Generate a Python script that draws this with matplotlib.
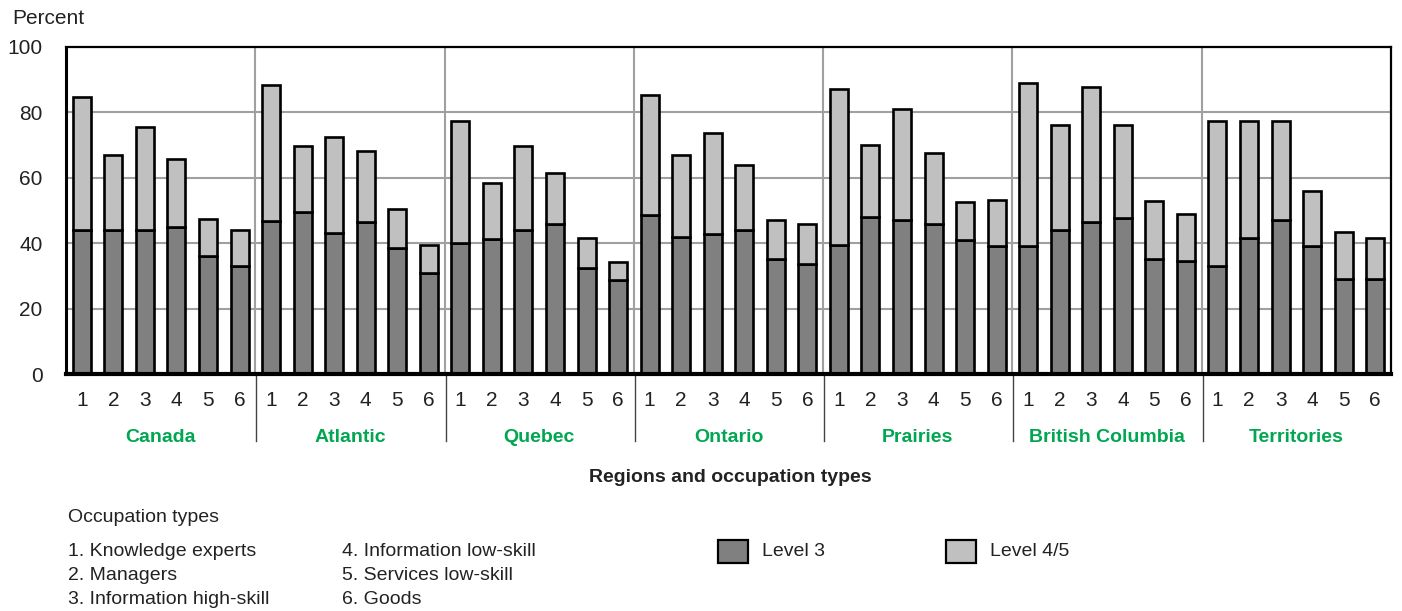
import numpy as np
import matplotlib.pyplot as plt
from matplotlib.patches import Rectangle

# ------------------ Data ------------------
regions = ["Canada", "Atlantic", "Quebec", "Ontario", "Prairies",
           "British Columbia", "Territories"]
occ_ticks = ["1", "2", "3", "4", "5", "6"]

# Level 3 share (bottom segment), percent
level3 = [
    [43.9, 43.9, 43.9, 45.0, 36.0, 33.0],   # Canada
    [46.9, 49.4, 43.2, 46.4, 38.4, 31.0],   # Atlantic
    [40.2, 41.4, 43.9, 45.8, 32.4, 28.7],   # Quebec
    [48.7, 42.0, 42.7, 43.9, 35.3, 33.5],   # Ontario
    [39.5, 48.1, 47.0, 45.8, 40.9, 39.0],   # Prairies
    [39.0, 43.9, 46.4, 47.6, 35.3, 34.7],   # British Columbia
    [32.9, 41.5, 47.0, 39.0, 29.2, 29.2],   # Territories
]
# Level 3 + Level 4/5 (top of bar), percent
total = [
    [84.7, 67.1, 75.6, 65.9, 47.5, 43.9],
    [88.4, 69.6, 72.5, 68.2, 50.6, 39.5],
    [77.5, 58.5, 69.6, 61.6, 41.5, 34.2],
    [85.3, 67.0, 73.7, 64.0, 47.0, 45.8],
    [87.1, 70.1, 81.0, 67.6, 52.5, 53.1],
    [89.1, 76.1, 87.7, 76.1, 53.0, 48.8],
    [77.5, 77.5, 77.5, 56.1, 43.3, 41.5],
]
occ_names = ["1. Knowledge experts", "2. Managers", "3. Information high-skill",
             "4. Information low-skill", "5. Services low-skill", "6. Goods"]

DARK = "#808080"
LIGHT = "#c0c0c0"
GREEN = "#00a651"
TXT = "#222222"
FS = 14
plt.rcParams['font.family'] = ["Liberation Sans", "DejaVu Sans"]

lvl3 = np.array(level3).ravel()
lvl45 = np.array(total).ravel() - lvl3
n_per = len(occ_ticks)
x = np.arange(len(lvl3)) + 0.5

fig = plt.figure(figsize=(14.02, 6.11), dpi=100)
ax = fig.add_axes([66 / 1402, 1 - 374 / 611, 1325 / 1402, 327 / 611])

# grid
for yv in [20, 40, 60, 80]:
    ax.axhline(yv, color="#a0a0a0", lw=1.5, zorder=0)
for g in range(1, len(regions)):
    ax.axvline(g * n_per, color="#a0a0a0", lw=1.5, zorder=0)

# stacked bars
ax.bar(x, lvl3, width=0.57, color=DARK, edgecolor="black", lw=1.9, zorder=2)
ax.bar(x, lvl45, bottom=lvl3, width=0.57, color=LIGHT, edgecolor="black",
       lw=1.9, zorder=2)

ax.set_xlim(0, len(lvl3))
ax.set_ylim(0, 100)
ax.set_yticks([0, 20, 40, 60, 80, 100])
ax.tick_params(axis="y", length=0, labelsize=15, pad=17, colors=TXT)
ax.set_xticks(x)
ax.set_xticklabels(occ_ticks * len(regions))
ax.tick_params(axis="x", length=0, labelsize=15, pad=12, colors=TXT)

for s in ["top", "right"]:
    ax.spines[s].set_linewidth(1.6)
ax.spines["left"].set_linewidth(2.2)
ax.spines["bottom"].set_linewidth(3)

# region names and separators below the axis
trans = ax.get_xaxis_transform()
for i, name in enumerate(regions):
    ax.text(i * n_per + n_per / 2, -0.195, name, transform=trans, ha="center",
            va="center", color=GREEN, fontsize=FS, fontweight="bold")
    if i > 0:
        ax.plot([i * n_per + 0.03, i * n_per + 0.03], [0, -0.205], transform=trans,
                color="#444444", lw=1, clip_on=False)

fig.text(730 / 1402, 1 - 478 / 611, "Regions and occupation types", ha="center",
         va="center", fontsize=FS, fontweight="bold", color=TXT)
fig.text(12 / 1402, 1 - 18 / 611, "Percent", ha="left", va="center",
         fontsize=15, color=TXT)

# occupation type key
fig.text(68 / 1402, 1 - 517 / 611, "Occupation types", ha="left", va="center",
         fontsize=FS, color=TXT)
for k, name in enumerate(occ_names):
    col, row = divmod(k, 3)
    fig.text((68 + col * 274) / 1402, 1 - (552 + row * 24) / 611, name,
             ha="left", va="center", fontsize=FS, color=TXT)

# legend swatches
for px, color, label in [(718, DARK, "Level 3"), (946, LIGHT, "Level 4/5")]:
    fig.patches.append(Rectangle((px / 1402, 1 - 563 / 611), 30 / 1402, 23 / 611,
                                 transform=fig.transFigure, facecolor=color,
                                 edgecolor="black", lw=1.6))
    fig.text((px + 44) / 1402, 1 - 552 / 611, label, ha="left", va="center",
             fontsize=FS, color=TXT)

fig.savefig("out.png", dpi=100)
